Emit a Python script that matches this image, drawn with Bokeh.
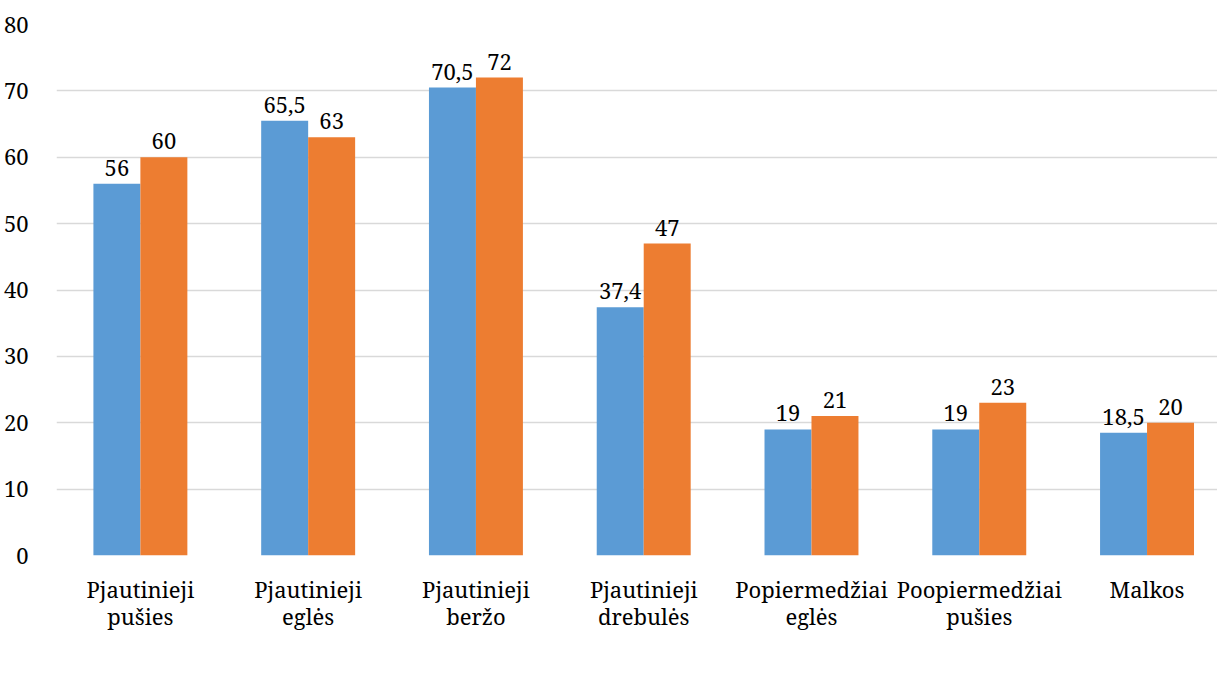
from bokeh.plotting import figure
from bokeh.models import ColumnDataSource, Legend, LegendItem, FixedTicker, Range1d
from bokeh.core.properties import value
from bokeh.embed import file_html
from bokeh.resources import INLINE

categories = ["Pjautinieji\npušies", "Pjautinieji\neglės", "Pjautinieji\nberžo",
              "Pjautinieji\ndrebulės", "Popiermedžiai\neglės", "Poopiermedžiai\npušies", "Malkos"]
privataus = [56, 65.5, 70.5, 37.4, 19, 19, 18.5]
uredijos = [60, 63, 72, 47, 21, 23, 20]
series_names = ["Privačių savininkų", "Miškų urėdijų"]
y_ticks = [0, 10, 20, 30, 40, 50, 60, 70, 80]

BLUE = "#5B9BD5"
ORANGE = "#ED7D31"
FONT = "Noto Serif"
FS = "22px"

def fmt(v):
    s = ("%g" % v)
    return s.replace(".", ",")

idx = list(range(len(categories)))
bw = 0.28
src_a = ColumnDataSource(dict(x=[i - bw / 2 for i in idx], top=privataus,
                              lab=[fmt(v) for v in privataus]))
src_b = ColumnDataSource(dict(x=[i + bw / 2 for i in idx], top=uredijos,
                              lab=[fmt(v) for v in uredijos]))

p = figure(frame_width=1161, frame_height=531, output_backend="svg", toolbar_location=None,
           x_range=Range1d(-0.5, 6.42), y_range=Range1d(0, 80),
           min_border_left=51, min_border_right=0, min_border_top=24, min_border_bottom=0)
p.outline_line_color = None
p.background_fill_color = "white"

ra = p.vbar(x="x", top="top", width=bw, bottom=0, source=src_a, fill_color=BLUE, line_color=None)
rb = p.vbar(x="x", top="top", width=bw, bottom=0, source=src_b, fill_color=ORANGE, line_color=None)

for src in (src_a, src_b):
    p.text(x="x", y="top", text="lab", source=src, text_align="center",
           text_baseline="alphabetic", y_offset=-16, text_font=value(FONT),
           text_font_size=FS, text_color="black")

p.xaxis.ticker = FixedTicker(ticks=idx)
p.xaxis.major_label_overrides = {i: c for i, c in zip(idx, categories)}
p.yaxis.ticker = FixedTicker(ticks=y_ticks)

for ax in (p.xaxis, p.yaxis):
    ax.axis_line_color = None
    ax.major_tick_line_color = None
    ax.minor_tick_line_color = None
    ax.major_label_text_font = FONT
    ax.major_label_text_font_size = FS
    ax.major_label_text_color = "black"
p.xaxis.major_label_standoff = 12
p.xaxis.major_label_text_line_height = 0.9
p.yaxis.major_label_standoff = 22

p.xgrid.grid_line_color = None
p.ygrid.grid_line_color = "#D9D9D9"
p.ygrid.grid_line_width = 1.5

legend = Legend(items=[LegendItem(label=series_names[0], renderers=[ra]),
                       LegendItem(label=series_names[1], renderers=[rb])],
                orientation="horizontal", location="top_center",
                label_text_font=FONT, label_text_font_size=FS,
                glyph_width=12, glyph_height=12, label_standoff=5, spacing=36,
                padding=0, margin=20, border_line_color=None,
                background_fill_alpha=0)
p.add_layout(legend, "below")

open("out.html", "w").write(file_html(p, INLINE))
